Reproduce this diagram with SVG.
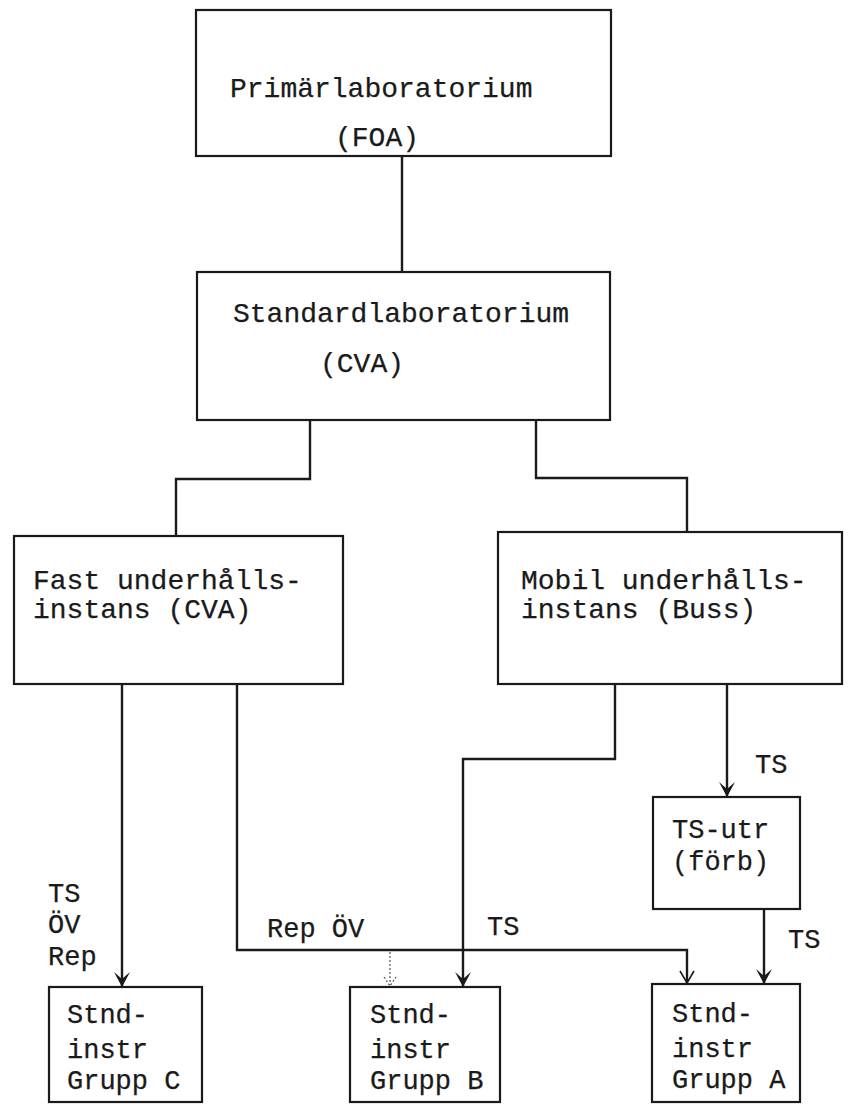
<svg xmlns="http://www.w3.org/2000/svg" width="849" height="1111" viewBox="0 0 849 1111">
<style>
.box{fill:none;stroke:#1a1a1a;stroke-width:2.2}
.ln{fill:none;stroke:#1a1a1a;stroke-width:2.4}
.thin{fill:none;stroke:#1a1a1a;stroke-width:1.6}
.dot{fill:none;stroke:#555;stroke-width:1.2;stroke-dasharray:2 2}
text{font-family:"Liberation Mono","Courier New",monospace;font-size:28px;fill:#1a1a1a;stroke:#1a1a1a;stroke-width:0.25}
.sm{font-size:27px}
</style>
<defs>
<marker id="ah" viewBox="0 0 18 16" refX="18" refY="8" markerWidth="18" markerHeight="16" markerUnits="userSpaceOnUse" orient="auto">
<path d="M3,0 L18,8 L3,16 L10,8 z" fill="#1a1a1a"/>
</marker>
</defs>
<rect width="849" height="1111" fill="#fff"/>
<g id="primar">
<rect class="box" x="196" y="10" width="415" height="146"/>
<text x="230" y="97">Primärlaboratorium</text>
<text x="335" y="146">(FOA)</text>
</g>
<g id="standard">
<rect class="box" x="197" y="272" width="413" height="148"/>
<text x="233" y="322">Standardlaboratorium</text>
<text x="320" y="372">(CVA)</text>
</g>
<g id="fast">
<rect class="box" x="14" y="536" width="329" height="148"/>
<text x="33" y="589">Fast underhålls-</text>
<text x="33" y="618">instans (CVA)</text>
</g>
<g id="mobil">
<rect class="box" x="498" y="532" width="344" height="152"/>
<text x="521" y="589">Mobil underhålls-</text>
<text x="521" y="618">instans (Buss)</text>
</g>
<g id="tsutr">
<rect class="box" x="653" y="797" width="147" height="112"/>
<text class="sm" x="672" y="838">TS-utr</text>
<text class="sm" x="672" y="870">(förb)</text>
</g>
<g id="grC">
<rect class="box" x="49" y="987" width="153" height="115"/>
<text class="sm" x="67" y="1023">Stnd-</text>
<text class="sm" x="67" y="1058">instr</text>
<text class="sm" x="67" y="1089">Grupp C</text>
</g>
<g id="grB">
<rect class="box" x="350" y="987" width="150" height="115"/>
<text class="sm" x="370" y="1023">Stnd-</text>
<text class="sm" x="370" y="1058">instr</text>
<text class="sm" x="370" y="1089">Grupp B</text>
</g>
<g id="grA">
<rect class="box" x="652" y="984" width="148" height="118"/>
<text class="sm" x="672" y="1022">Stnd-</text>
<text class="sm" x="672" y="1057">instr</text>
<text class="sm" x="672" y="1088">Grupp A</text>
</g>
<g id="connectors">
<path class="ln" d="M402,156 V272"/>
<path class="ln" d="M310,420 V479 H176 V536"/>
<path class="ln" d="M536,420 V478 H687 V532"/>
<path class="ln" d="M122,684 V987" marker-end="url(#ah)"/>
<path class="ln" d="M237,684 V950 H687 V983"/>
<path class="thin" d="M680,971 L687,983 L694,971"/>
<path class="dot" d="M390,952 V985"/>
<path class="dot" d="M384,977 L390,986 L396,977"/>
<path class="ln" d="M615,684 V759 H463 V987" marker-end="url(#ah)"/>
<path class="ln" d="M727,684 V797" marker-end="url(#ah)"/>
<path class="ln" d="M764,909 V984" marker-end="url(#ah)"/>
</g>
<g id="labels">
<text class="sm" x="48" y="902">TS</text>
<text class="sm" x="48" y="933">ÖV</text>
<text class="sm" x="48" y="965">Rep</text>
<text class="sm" x="267" y="937">Rep ÖV</text>
<text class="sm" x="487" y="935">TS</text>
<text class="sm" x="755" y="773">TS</text>
<text class="sm" x="788" y="948">TS</text>
</g>
</svg>
